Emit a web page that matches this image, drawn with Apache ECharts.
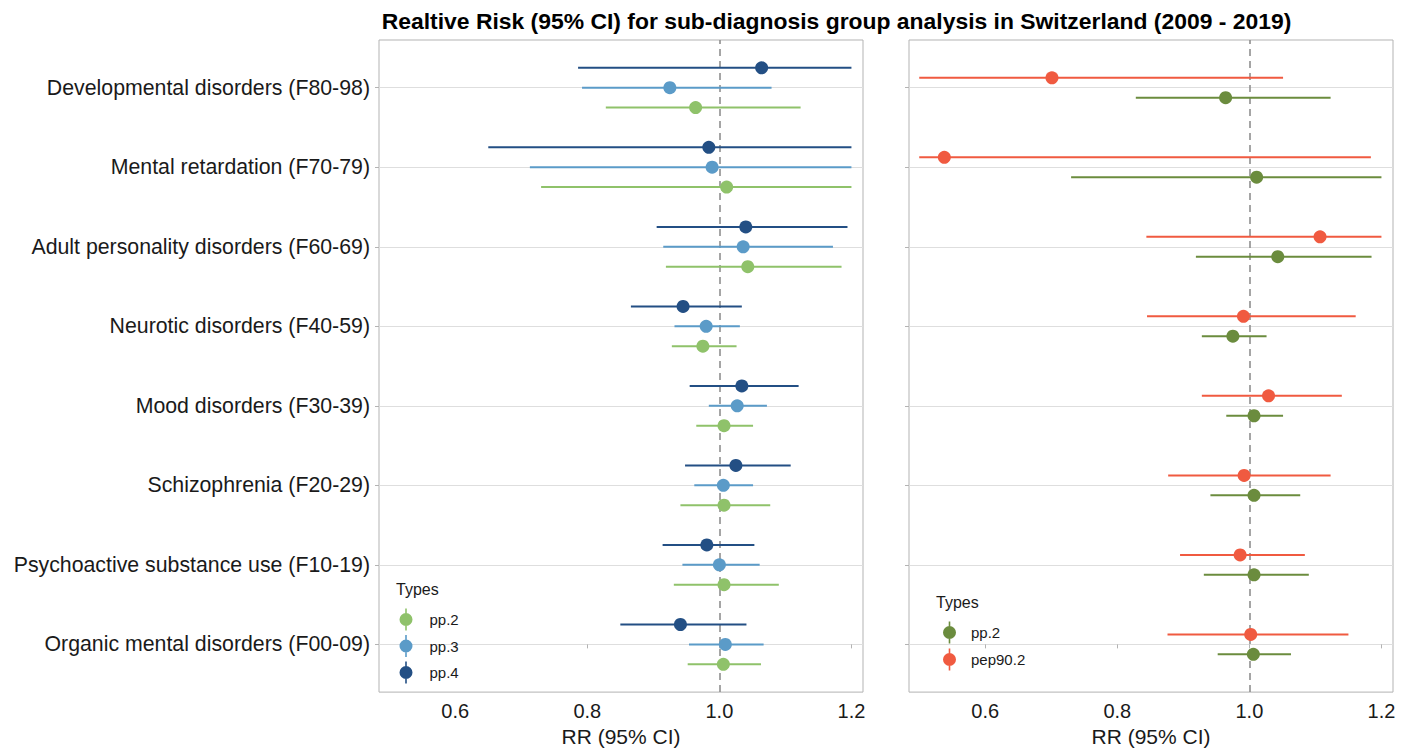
<!DOCTYPE html>
<html>
<head>
<meta charset="utf-8">
<script src="https://cdn.jsdelivr.net/npm/echarts@6/dist/echarts.min.js"></script>
<style>
  html, body { margin: 0; padding: 0; background: #ffffff; }
  #chart { width: 1413px; height: 752px; }
</style>
</head>
<body>
<div id="chart"></div>
<script>
// ---------- data (categories listed bottom to top) ----------
const categories = [
  'Organic mental disorders (F00-09)',
  'Psychoactive substance use (F10-19)',
  'Schizophrenia (F20-29)',
  'Mood disorders (F30-39)',
  'Neurotic disorders (F40-59)',
  'Adult personality disorders (F60-69)',
  'Mental retardation (F70-79)',
  'Developmental disorders (F80-98)'
];
const xTicks = [0.6, 0.8, 1.0, 1.2];

// Left panel
const pp2_est = [1.006, 1.007, 1.007, 1.007, 0.975, 1.043, 1.011, 0.964];
const pp2_lo  = [0.952, 0.931, 0.941, 0.965, 0.928, 0.919, 0.730, 0.828];
const pp2_hi  = [1.063, 1.090, 1.077, 1.051, 1.026, 1.185, 1.200, 1.123];

const pp3_est = [1.009, 1.000, 1.006, 1.027, 0.980, 1.036, 0.989, 0.925];
const pp3_lo  = [0.954, 0.944, 0.962, 0.984, 0.932, 0.915, 0.713, 0.792];
const pp3_hi  = [1.067, 1.061, 1.051, 1.072, 1.031, 1.172, 1.200, 1.079];

const pp4_est = [0.941, 0.981, 1.025, 1.034, 0.945, 1.040, 0.984, 1.064];
const pp4_lo  = [0.850, 0.914, 0.948, 0.955, 0.866, 0.905, 0.650, 0.786];
const pp4_hi  = [1.041, 1.053, 1.108, 1.120, 1.034, 1.194, 1.200, 1.200];

// Right panel
const pep90_est = [1.002, 0.986, 0.992, 1.029, 0.991, 1.107, 0.538, 0.701];
const pep90_lo  = [0.876, 0.895, 0.877, 0.928, 0.845, 0.844, 0.500, 0.500];
const pep90_hi  = [1.150, 1.084, 1.123, 1.140, 1.161, 1.200, 1.184, 1.051];

// ---------- styling ----------
const C = {
  pp2: '#8fc26a', pp3: '#5b9bc8', pp4: '#234f84',
  pp2r: '#6b8c3e', pep: '#f05a40'
};
const textColor = '#1a1a1a';
const fontFamily = '"Liberation Sans", Arial, Helvetica, sans-serif';
const XMIN = 0.4845, XMAX = 1.2175;
const YMIN = -0.6, YMAX = 7.6;
const catIdx = categories.map((_, i) => i);

function rows(lo, est, hi) {
  return categories.map((_, i) => [lo[i], est[i], hi[i], i]);
}

function makeRender(dodge, color) {
  return function (params, api) {
    const c = api.value(3) + dodge;
    const p1 = api.coord([api.value(0), c]);
    const p2 = api.coord([api.value(2), c]);
    const pe = api.coord([api.value(1), c]);
    return {
      type: 'group',
      children: [
        { type: 'line', shape: { x1: p1[0], y1: p1[1], x2: p2[0], y2: p2[1] },
          style: { stroke: color, lineWidth: 2 } },
        { type: 'circle', shape: { cx: pe[0], cy: pe[1], r: 6.5 },
          style: { fill: color } }
      ]
    };
  };
}

function pointRange(name, grid, lo, est, hi, dodge, color, withRef) {
  const s = {
    type: 'custom',
    name: name,
    xAxisIndex: grid,
    yAxisIndex: grid,
    color: color,
    itemStyle: { color: color },
    renderItem: makeRender(dodge, color),
    encode: { x: [0, 1, 2], y: 3 },
    data: rows(lo, est, hi),
    z: 3,
    silent: true
  };
  if (withRef) {
    s.markLine = {
      silent: true,
      symbol: 'none',
      z: 1,
      label: { show: false },
      lineStyle: { type: [7, 5], color: '#8f8f8f', width: 1.6 },
      data: [{ xAxis: 1 }]
    };
  }
  return s;
}

const legendIcon = 'path://M9.2,0h1.6v22h-1.6z M3.5,11a6.5,6.5 0 1,1 13,0a6.5,6.5 0 1,1 -13,0z';

function xAxis(grid) {
  return {
    type: 'value', gridIndex: grid, min: XMIN, max: XMAX,
    name: 'RR (95% CI)', nameLocation: 'middle', nameGap: 30,
    nameTextStyle: { fontSize: 21, color: textColor, fontFamily: fontFamily },
    axisLine: { show: false },
    axisTick: { show: true, length: 4, customValues: xTicks, lineStyle: { color: '#b3b3b3' } },
    axisLabel: { customValues: xTicks, formatter: v => v.toFixed(1), fontSize: 20,
                 color: textColor, margin: 9, fontFamily: fontFamily },
    splitLine: { show: false }
  };
}
function yAxis(grid, showLabels) {
  return {
    type: 'value', gridIndex: grid, min: YMIN, max: YMAX,
    axisLine: { show: false },
    axisTick: { show: true, length: 4, customValues: catIdx, lineStyle: { color: '#b3b3b3' } },
    axisLabel: { show: showLabels, customValues: catIdx, formatter: v => categories[Math.round(v)],
                 fontSize: 21.3, color: textColor, margin: 9, padding: [3, 0, 0, 0], fontFamily: fontFamily },
    splitLine: { show: true, lineStyle: { color: '#dedede', width: 1 } }
  };
}

const option = {
  backgroundColor: '#ffffff',
  animation: false,
  textStyle: { fontFamily: fontFamily },
  title: [
    { text: 'Realtive Risk (95% CI) for sub-diagnosis group analysis in Switzerland (2009 - 2019)',
      left: 836.5, textAlign: 'center', top: 9, padding: 0,
      textStyle: { fontSize: 22.9, fontWeight: 'bold', color: '#000', fontFamily: fontFamily } },
    { text: 'Types', left: 396, top: 581, padding: 0,
      textStyle: { fontSize: 16, fontWeight: 'normal', color: textColor, fontFamily: fontFamily } },
    { text: 'Types', left: 936, top: 594, padding: 0,
      textStyle: { fontSize: 16, fontWeight: 'normal', color: textColor, fontFamily: fontFamily } }
  ],
  grid: [
    { left: 379, top: 40, width: 484, height: 659.5, show: true, borderColor: '#b3b3b3', borderWidth: 1, backgroundColor: 'transparent' },
    { left: 909, top: 40, width: 484, height: 659.5, show: true, borderColor: '#b3b3b3', borderWidth: 1, backgroundColor: 'transparent' }
  ],
  xAxis: [xAxis(0), xAxis(1)],
  yAxis: [yAxis(0, true), yAxis(1, false)],
  legend: [
    { data: ['L:pp.2', 'L:pp.3', 'L:pp.4'], orient: 'vertical', left: 399.5, top: 608.5,
      itemWidth: 13, itemHeight: 22, itemGap: 4.5, icon: legendIcon, selectedMode: false, padding: 0,
      formatter: n => n.slice(2),
      textStyle: { fontSize: 15, color: textColor, padding: [0, 0, 0, 12], fontFamily: fontFamily } },
    { data: ['R:pp.2', 'R:pep90.2'], orient: 'vertical', left: 943, top: 621.5,
      itemWidth: 13, itemHeight: 22, itemGap: 5, icon: legendIcon, selectedMode: false, padding: 0,
      formatter: n => n.slice(2),
      textStyle: { fontSize: 15, color: textColor, padding: [0, 0, 0, 10], fontFamily: fontFamily } }
  ],
  series: [
    pointRange('L:pp.2', 0, pp2_lo, pp2_est, pp2_hi, -0.25, C.pp2, true),
    pointRange('L:pp.3', 0, pp3_lo, pp3_est, pp3_hi, 0, C.pp3, false),
    pointRange('L:pp.4', 0, pp4_lo, pp4_est, pp4_hi, 0.25, C.pp4, false),
    pointRange('R:pp.2', 1, pp2_lo, pp2_est, pp2_hi, -0.125, C.pp2r, true),
    pointRange('R:pep90.2', 1, pep90_lo, pep90_est, pep90_hi, 0.125, C.pep, false)
  ]
};

const chart = echarts.init(document.getElementById('chart'), null, { renderer: 'svg' });
chart.setOption(option);
</script>
</body>
</html>
